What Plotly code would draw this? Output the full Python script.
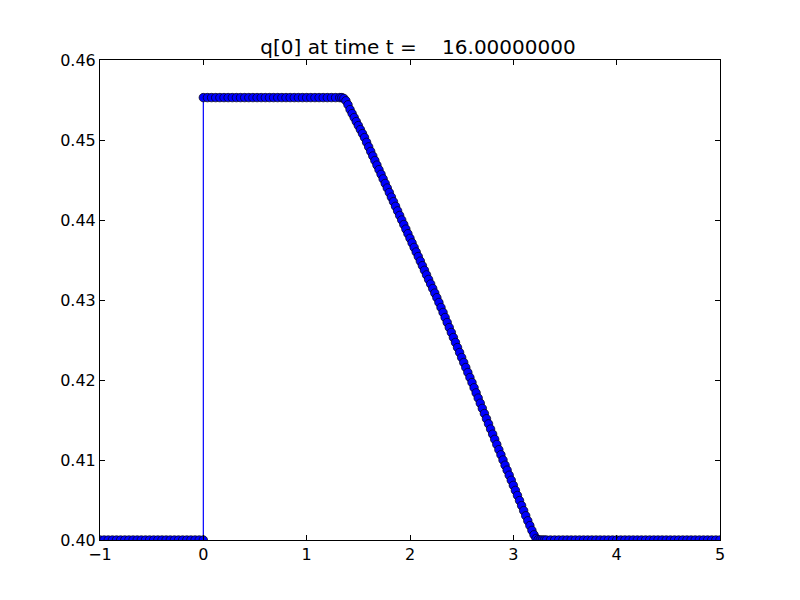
import plotly.graph_objects as go

# Left constant state (coarse grid)
x_left = [-1.00, -0.96, -0.92, -0.88, -0.84, -0.80, -0.76, -0.72, -0.68, -0.64,
          -0.60, -0.56, -0.52, -0.48, -0.44, -0.40, -0.36, -0.32, -0.28, -0.24,
          -0.20, -0.16, -0.12, -0.08, -0.04, 0.00]
y_left = [0.4000] * len(x_left)

# Plateau (coarse grid)
x_plateau = [0.00, 0.04, 0.08, 0.12, 0.16, 0.20, 0.24, 0.28, 0.32, 0.36,
             0.40, 0.44, 0.48, 0.52, 0.56, 0.60, 0.64, 0.68, 0.72, 0.76,
             0.80, 0.84, 0.88, 0.92, 0.96, 1.00, 1.04, 1.08, 1.12, 1.16,
             1.20, 1.24, 1.28, 1.32]
y_plateau = [0.4553] * len(x_plateau)

# Ramp (fine grid)
x_ramp = [1.34, 1.36, 1.38, 1.40, 1.42, 1.44, 1.46, 1.48, 1.50, 1.52,
          1.54, 1.56, 1.58, 1.60, 1.62, 1.64, 1.66, 1.68, 1.70, 1.72,
          1.74, 1.76, 1.78, 1.80, 1.82, 1.84, 1.86, 1.88, 1.90, 1.92,
          1.94, 1.96, 1.98, 2.00, 2.02, 2.04, 2.06, 2.08, 2.10, 2.12,
          2.14, 2.16, 2.18, 2.20, 2.22, 2.24, 2.26, 2.28, 2.30, 2.32,
          2.34, 2.36, 2.38, 2.40, 2.42, 2.44, 2.46, 2.48, 2.50, 2.52,
          2.54, 2.56, 2.58, 2.60, 2.62, 2.64, 2.66, 2.68, 2.70, 2.72,
          2.74, 2.76, 2.78, 2.80, 2.82, 2.84, 2.86, 2.88, 2.90, 2.92,
          2.94, 2.96, 2.98, 3.00, 3.02, 3.04, 3.06, 3.08, 3.10, 3.12,
          3.14, 3.16, 3.18, 3.20, 3.22, 3.24, 3.26, 3.28, 3.30]
y_ramp = [0.45530, 0.45520, 0.45490, 0.45440, 0.45380, 0.45330, 0.45280, 0.45230, 0.45180, 0.45130,
          0.45080, 0.45030, 0.44971, 0.44914, 0.44857, 0.44800, 0.44743, 0.44686, 0.44629, 0.44571,
          0.44514, 0.44457, 0.44400, 0.44343, 0.44286, 0.44229, 0.44171, 0.44114, 0.44057, 0.44000,
          0.43943, 0.43886, 0.43829, 0.43771, 0.43714, 0.43657, 0.43600, 0.43543, 0.43486, 0.43429,
          0.43371, 0.43314, 0.43257, 0.43200, 0.43143, 0.43086, 0.43029, 0.42969, 0.42906, 0.42844,
          0.42781, 0.42719, 0.42656, 0.42594, 0.42531, 0.42469, 0.42406, 0.42344, 0.42281, 0.42219,
          0.42156, 0.42094, 0.42031, 0.41968, 0.41903, 0.41839, 0.41774, 0.41710, 0.41645, 0.41581,
          0.41516, 0.41452, 0.41387, 0.41323, 0.41258, 0.41194, 0.41129, 0.41065, 0.41000, 0.40935,
          0.40873, 0.40810, 0.40747, 0.40683, 0.40620, 0.40557, 0.40493, 0.40430, 0.40367, 0.40303,
          0.40240, 0.40180, 0.40120, 0.40065, 0.40020, 0.40003, 0.40000, 0.40000, 0.40000]

# Right constant state (coarse grid)
x_right = [3.32, 3.36, 3.40, 3.44, 3.48, 3.52, 3.56, 3.60, 3.64, 3.68,
           3.72, 3.76, 3.80, 3.84, 3.88, 3.92, 3.96, 4.00, 4.04, 4.08,
           4.12, 4.16, 4.20, 4.24, 4.28, 4.32, 4.36, 4.40, 4.44, 4.48,
           4.52, 4.56, 4.60, 4.64, 4.68, 4.72, 4.76, 4.80, 4.84, 4.88,
           4.92, 4.96, 5.00]
y_right = [0.4000] * len(x_right)

x_ticks = [-1, 0, 1, 2, 3, 4, 5]
x_tick_labels = ["\u22121", "0", "1", "2", "3", "4", "5"]
y_ticks = [0.40, 0.41, 0.42, 0.43, 0.44, 0.45, 0.46]

title_text = "q[0] at time t =\u00a0\u00a0\u00a0\u00a016.00000000"

x_all = x_left + x_plateau + x_ramp + x_right
y_all = y_left + y_plateau + y_ramp + y_right

fig = go.Figure()
fig.add_trace(go.Scatter(
    x=x_all, y=y_all, mode="lines+markers",
    line=dict(color="#0000ff", width=1.2),
    marker=dict(symbol="circle", size=8.5, color="#0000ff",
                line=dict(color="#000000", width=0.7)),
    cliponaxis=True, showlegend=False,
))

font_family = "DejaVu Sans"
fig.update_layout(
    width=800, height=600,
    margin=dict(l=92, r=88, t=52, b=68),
    paper_bgcolor="white", plot_bgcolor="white",
    font=dict(family=font_family, size=16, color="black"),
    title=dict(text=title_text, x=0.5125, xanchor="center",
               yref="paper", y=1.0, yanchor="bottom", pad=dict(b=6, t=0),
               font=dict(family=font_family, size=20, color="black")),
)
fig.update_xaxes(range=[-1, 5], tickvals=x_ticks, ticktext=x_tick_labels,
                 showgrid=False, zeroline=False, showline=True, linecolor="black", linewidth=1,
                 mirror="ticks", ticks="inside", ticklen=5, tickcolor="black", tickwidth=1,
                 tickfont=dict(size=16, family=font_family))
fig.update_yaxes(range=[0.40, 0.46], tickvals=y_ticks, tickformat=".2f",
                 showgrid=False, zeroline=False, showline=True, linecolor="black", linewidth=1,
                 mirror="ticks", ticks="inside", ticklen=5, tickcolor="black", tickwidth=1,
                 tickfont=dict(size=16, family=font_family))

fig.write_html("out.html")
